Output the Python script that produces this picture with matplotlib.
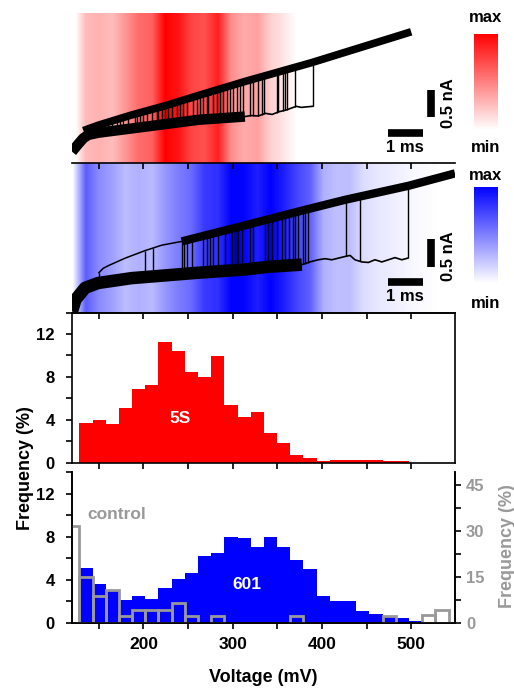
import numpy as np
import matplotlib

matplotlib.use("Agg")
import matplotlib.pyplot as plt
from matplotlib.cm import ScalarMappable
from matplotlib.colors import LinearSegmentedColormap, Normalize
from matplotlib.ticker import MultipleLocator

# histogram binning (mV)
BIN_START = 128.2
BIN_WIDTH = 14.77

# frequency (%) per voltage bin
freq_5s = [3.66, 3.97, 3.56, 5.13, 6.84, 7.25, 11.25, 10.38, 8.44, 7.97,
           9.97, 5.41, 4.28, 4.69, 2.72, 1.84, 0.72, 0.38, 0.12, 0.25,
           0.25, 0.25, 0.25, 0.10, 0.10]
freq_601 = [5.10, 3.65, 3.00, 2.12, 2.49, 2.18, 3.27, 4.08, 4.67, 6.23,
            6.48, 7.94, 7.88, 7.04, 8.00, 7.04, 5.86, 4.98, 2.52, 2.02,
            2.06, 1.12, 0.78, 0.62, 0.42, 0.20, 0.10]
# control starts one bin earlier, plotted on the right axis
freq_control = [31.4, 14.8, 8.7, 10.7, 2.2, 4.1, 4.1, 4.1, 6.3, 2.2,
                0, 2.2, 0, 0, 0, 0, 0, 2.2, 0, 0,
                0, 0, 0, 0, 2.2, 0, 0, 2.4, 4.3]

# current traces (time in ms, current in nA above panel bottom)
red_low_t = [0.0, 0.18, 0.33, 0.47, 0.76, 1.73, 2.70, 3.66, 5.01]
red_low_i = [0.21, 0.35, 0.46, 0.52, 0.56, 0.64, 0.72, 0.80, 0.86]
red_tail_t = [5.2, 5.4, 5.6, 5.8, 6.0, 6.2, 6.37, 6.5, 6.65, 6.8, 6.98]
red_tail_i = [0.88, 0.87, 0.92, 0.90, 0.95, 0.98, 1.02, 1.05, 1.03, 1.04, 1.05]
red_up_t = [0.33, 0.76, 1.73, 2.70, 3.66, 5.01, 6.95, 9.83]
red_up_i = [0.60, 0.70, 0.89, 1.06, 1.25, 1.51, 1.86, 2.43]
red_events = [0.38, 0.47, 0.57, 0.71, 0.86, 1.05, 1.15, 1.30, 1.39, 1.49,
              1.63, 1.83, 1.87, 1.97, 2.07, 2.16, 2.31, 2.45, 2.50, 2.60,
              2.70, 2.79, 2.89, 3.03, 3.13, 3.23, 3.32, 3.52, 3.61, 3.71,
              3.81, 3.90, 3.95, 4.10, 4.19, 4.29, 4.39, 4.48, 4.58, 4.68,
              4.77, 4.87, 4.97, 5.16, 5.26, 5.40, 5.50, 5.55, 5.93, 5.98,
              6.12, 6.17, 6.22, 6.46, 6.98]

blue_low_t = [0.0, 0.10, 0.38, 0.76, 1.73, 2.70, 3.66, 5.01, 5.69, 6.66]
blue_low_i = [0.02, 0.24, 0.46, 0.55, 0.64, 0.69, 0.74, 0.80, 0.85, 0.89]
blue_tail_t = [6.95, 7.14, 7.33, 7.53, 7.72, 7.91, 8.06, 8.20, 8.40, 8.59,
               8.78, 8.98, 9.17, 9.36, 9.56, 9.73]
blue_tail_i = [0.95, 0.98, 1.00, 0.98, 1.01, 1.04, 1.06, 0.98, 0.94, 0.93,
               0.98, 0.94, 0.98, 1.02, 0.98, 1.01]
blue_thin_t = [0.78, 0.90, 1.05, 1.54, 2.12, 2.60]
blue_thin_i = [0.74, 0.82, 0.87, 1.01, 1.15, 1.25]
blue_up_t = [3.18, 4.72, 6.66, 7.91, 9.75, 11.1]
blue_up_i = [1.32, 1.57, 1.89, 2.09, 2.35, 2.58]
blue_events = [0.78, 2.12, 2.36, 3.18, 3.26, 3.32, 3.47, 3.81, 3.90, 4.00,
               4.10, 4.24, 4.43, 4.63, 4.72, 4.77, 4.82, 4.92, 5.16, 5.26,
               5.59, 5.69, 5.79, 5.93, 6.08, 6.17, 6.29, 6.41, 6.46, 6.56,
               6.70, 6.75, 6.85, 7.94, 8.35, 9.75]

RED = "#ff0000"
BLUE = "#0000ff"
GREY = "#999999"
XLIM = (120, 549)
FS = 12

plt.rcParams["font.family"] = ["Liberation Sans", "DejaVu Sans"]
plt.rcParams["font.weight"] = "bold"
plt.rcParams["axes.linewidth"] = 1.2

fig = plt.figure(figsize=(5.14, 6.89), dpi=100)
L, W = 0.1401, 0.7451
rect_red = [L, 0.7634, W, 0.2177]
rect_blue = [L, 0.5462, W, 0.2172]
rect_5s = [L, 0.3287, W, 0.2175]
rect_601 = [L, 0.0962, W, 0.2183]


def x_locators(axis):
    axis.set_major_locator(MultipleLocator(100))
    axis.set_minor_locator(MultipleLocator(50))


def heat_panel(rect, freq, color, vmin):
    ax = fig.add_axes(rect)
    cmap = LinearSegmentedColormap.from_list("w" + color, ["white", color])
    row = np.concatenate([[0.0], freq, [0.0]])[np.newaxis, :]
    x0 = BIN_START - BIN_WIDTH
    x1 = BIN_START + BIN_WIDTH * (len(freq) + 1)
    ax.imshow(row, extent=(x0, x1, 0, 1), aspect="auto", cmap=cmap,
              vmin=vmin, vmax=max(freq), interpolation="bilinear")
    ax.set_xlim(*XLIM)
    ax.set_ylim(0, 1)
    for s in ax.spines.values():
        s.set_visible(False)
    ax.set_yticks([])
    x_locators(ax.xaxis)
    ax.tick_params(axis="x", which="both", bottom=False, labelbottom=False,
                   top=False, direction="in", length=4.5, width=1.2)
    return ax, cmap


def trace_panel(rect, ylim, low, tail, up, events, low_lw, up_lw, thin=None):
    ax = fig.add_axes(rect)
    ax.patch.set_alpha(0)
    ax.set_axis_off()
    ax.set_xlim(0, 11.1)
    ax.set_ylim(0, ylim)
    lo_t = np.r_[low[0], tail[0]]
    lo_i = np.r_[low[1], tail[1]]
    if thin is not None:
        hi_t = np.r_[thin[0], up[0]]
        hi_i = np.r_[thin[1], up[1]]
        ax.plot(np.r_[thin[0], up[0][0]], np.r_[thin[1], up[1][0]],
                color="k", lw=1.1)
    else:
        hi_t, hi_i = np.asarray(up[0]), np.asarray(up[1])
    ax.vlines(events, np.interp(events, lo_t, lo_i),
              np.interp(events, hi_t, hi_i), color="k", lw=1.0)
    ax.plot(low[0], low[1], color="k", lw=low_lw, solid_capstyle="butt")
    ax.plot(np.r_[low[0][-1], tail[0]], np.r_[low[1][-1], tail[1]],
            color="k", lw=1.2)
    ax.plot(up[0], up[1], color="k", lw=up_lw, solid_capstyle="butt")
    return ax


def scale_bars(ax, y_ms, v_lo, v_hi, y_txt_ms, y_txt_na):
    ax.plot([9.16, 10.17], [y_ms, y_ms], color="k", lw=5.5,
            solid_capstyle="butt")
    ax.plot([10.41, 10.41], [v_lo, v_hi], color="k", lw=5.5,
            solid_capstyle="butt")
    ax.text(9.65, y_txt_ms, "1 ms", ha="center", va="center", fontsize=FS)
    ax.text(10.92, y_txt_na, "0.5 nA", ha="center", va="center",
            rotation=90, fontsize=FS)


# heat maps
ax_red, cmap_red = heat_panel(rect_red, freq_5s, RED, 0.8)
ax_blue, cmap_blue = heat_panel(rect_blue, freq_601, BLUE, 0.0)
ax_blue.spines["top"].set_visible(True)
ax_blue.tick_params(axis="x", which="both", top=True)

tr_red = trace_panel(rect_red, 150 / 54, (red_low_t, red_low_i),
                     (red_tail_t, red_tail_i), (red_up_t, red_up_i),
                     red_events, 7.5, 5.5)
scale_bars(tr_red, 0.556, 0.85, 1.35, 0.28, 1.11)

tr_blue = trace_panel(rect_blue, 149.7 / 54, (blue_low_t, blue_low_i),
                      (blue_tail_t, blue_tail_i), (blue_up_t, blue_up_i),
                      blue_events, 9.0, 6.0, thin=(blue_thin_t, blue_thin_i))
scale_bars(tr_blue, 0.565, 0.85, 1.37, 0.30, 1.04)

# colour keys
for cmap, (bottom, top_y, low_y) in [
    (cmap_red, (0.8113, 18, 148)),
    (cmap_blue, (0.5893, 175, 303)),
]:
    cax = fig.add_axes([0.9222, bottom, 0.0467, 0.1400])
    cb = fig.colorbar(ScalarMappable(Normalize(0, 1), cmap), cax=cax)
    cb.outline.set_visible(False)
    cb.set_ticks([])
    fig.text(486 / 514, 1 - top_y / 689, "max", ha="center", va="center",
             fontsize=FS)
    fig.text(486 / 514, 1 - low_y / 689, "min", ha="center", va="center",
             fontsize=FS)

# 5S histogram
ax5 = fig.add_axes(rect_5s)
edges5 = BIN_START + BIN_WIDTH * np.arange(len(freq_5s) + 1)
ax5.stairs(freq_5s, edges5, fill=True, color=RED, lw=0)
ax5.set_xlim(*XLIM)
ax5.set_ylim(0, 14)
x_locators(ax5.xaxis)
ax5.yaxis.set_major_locator(MultipleLocator(4))
ax5.yaxis.set_minor_locator(MultipleLocator(2))
ax5.tick_params(axis="x", which="both", direction="out", length=4.5,
                width=1.2, labelbottom=False, top=False)
ax5.tick_params(axis="y", which="both", direction="out", length=4.5,
                width=1.2, labelsize=FS, pad=8, right=False)
sec = ax5.secondary_xaxis("top")
x_locators(sec.xaxis)
sec.tick_params(which="both", direction="in", length=4.5, width=1.2,
                labeltop=False)
ax5.text(240.7, 4.07, "5S", color="white", ha="center", va="center",
         fontsize=12.5)

# 601 histogram with control on the right axis
ax6 = fig.add_axes(rect_601)
edges6 = BIN_START + BIN_WIDTH * np.arange(len(freq_601) + 1)
ax6.stairs(freq_601, edges6, fill=True, color=BLUE, lw=0)
ax6.set_xlim(*XLIM)
ax6.set_ylim(0, 14)
ax6.spines["top"].set_visible(False)
x_locators(ax6.xaxis)
ax6.yaxis.set_major_locator(MultipleLocator(4))
ax6.yaxis.set_minor_locator(MultipleLocator(2))
ax6.tick_params(axis="x", which="both", direction="out", length=4.5,
                width=1.2, labelsize=12.5, pad=6, top=False)
ax6.tick_params(axis="y", which="both", direction="out", length=4.5,
                width=1.2, labelsize=FS, pad=8, right=False)
ax6.text(315.7, 3.6, "601", color="white", ha="center", va="center",
         fontsize=12.5)
ax6.text(136.8, 10.07, "control", color=GREY, ha="left", va="center",
         fontsize=12.5)

ax7 = ax6.twinx()
ctrl = np.asarray(freq_control, dtype=float)
ctrl_left = BIN_START - BIN_WIDTH + BIN_WIDTH * np.arange(len(ctrl))
keep = ctrl > 0
ax7.bar(ctrl_left[keep], ctrl[keep], width=BIN_WIDTH, align="edge",
        fill=False, edgecolor=GREY, lw=2.0)
ax7.set_xlim(*XLIM)
ax7.set_ylim(0, 49)
ax7.spines["top"].set_visible(False)
ax7.yaxis.set_major_locator(MultipleLocator(15))
ax7.yaxis.set_minor_locator(MultipleLocator(7.5))
ax7.tick_params(axis="y", which="both", direction="out", length=4.5,
                width=1.2, labelsize=FS, labelcolor=GREY)

fig.text(25 / 514, 1 - 468 / 689, "Frequency (%)", rotation=90,
         ha="center", va="center", fontsize=13)
fig.text(507 / 514, 1 - 546 / 689, "Frequency (%)", rotation=90,
         ha="center", va="center", fontsize=13, color=GREY)
fig.text(263.5 / 514, 1 - 678 / 689, "Voltage (mV)", ha="center",
         va="center", fontsize=13)

fig.savefig("out.png", dpi=100)
